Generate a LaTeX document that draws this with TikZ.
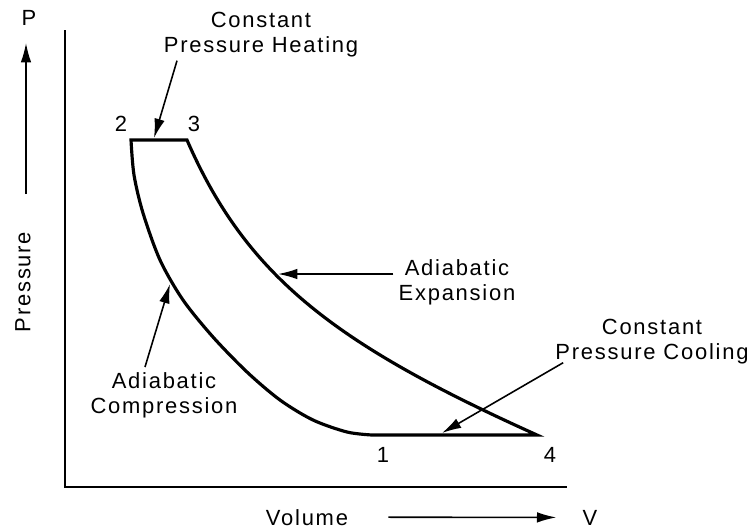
\documentclass[tikz,border=0pt]{standalone}
\usepackage{fontspec}
\setmainfont{Liberation Sans}[LetterSpace=8]
\usetikzlibrary{arrows.meta}

\tikzset{
    lbl/.style={font=\fontsize{12.5}{14.2}\selectfont, align=center, inner sep=0pt, outer sep=3pt},
    cyclepath/.style={line width=1.8pt, line join=miter},
    axisline/.style={line width=1.1pt},
    pointer/.style={line width=0.9pt, -{Latex[length=11pt, width=6pt]}},
}

\begin{document}
\begin{tikzpicture}[x=0.02cm, y=-0.02cm]
    \useasboundingbox (0,0) rectangle (752,529);

    \draw[axisline] (65,30) -- (65,487) -- (567,487);

    \coordinate (p2) at (131,140);
    \coordinate (p3) at (187,140);
    \coordinate (p4) at (537,435);
    \coordinate (p1) at (372,435);

    \draw[cyclepath] (p2) -- (p3) .. controls (247,278) and (337,345) .. (p4) -- (p1)
        -- plot[smooth] coordinates {(372,435) (347,432) (313,420) (280,400) (247,372) (213,337) (183,300) (160,260) (143,213) (134,175) (131,140)} -- cycle;

    \node[lbl] (n2) at (121,124) {2};

    \node[lbl] (n3) at (194,124) {3};

    \node[lbl] (n1) at (383,455) {1};

    \node[lbl] (n4) at (550,455) {4};

    \node[lbl] (heat) at (261,35) {Constant\\Pressure Heating};

    \node[lbl] (exp) at (457,282) {Adiabatic\\Expansion};

    \node[lbl] (comp) at (164,395) {Adiabatic\\Compression};

    \node[lbl] (cool) at (652,342) {Constant\\Pressure Cooling};

    \coordinate (hd) at (154,138);
    \coordinate (ex) at (278,274);
    \coordinate (cp) at (170,284);
    \coordinate (cl) at (442,433);

    \draw[pointer] ([shift={(-84,-2)}]heat.south) -- (hd);

    \draw[pointer] (exp.west |- ex) -- (ex);

    \draw[pointer] ([shift={(-19,0)}]comp.north) -- (cp);

    \draw[pointer] ([shift={(13,-7)}]cool.south west) -- (cl);

    \node[lbl] (plab) at (29,18) {P};

    \node[lbl, rotate=90] (pres) at (23,282) {Pressure};

    \coordinate (ptop) at (26,43);

    \draw[pointer] (26,194) -- (ptop);

    \node[lbl, anchor=base] (vol) at (307,525) {Volume};

    \node[lbl, anchor=base] (vlab) at (590,525) {V};

    \draw[pointer, shorten <=20pt, shorten >=12pt] (vol.east) -- (vlab.west);
\end{tikzpicture}
\end{document}
